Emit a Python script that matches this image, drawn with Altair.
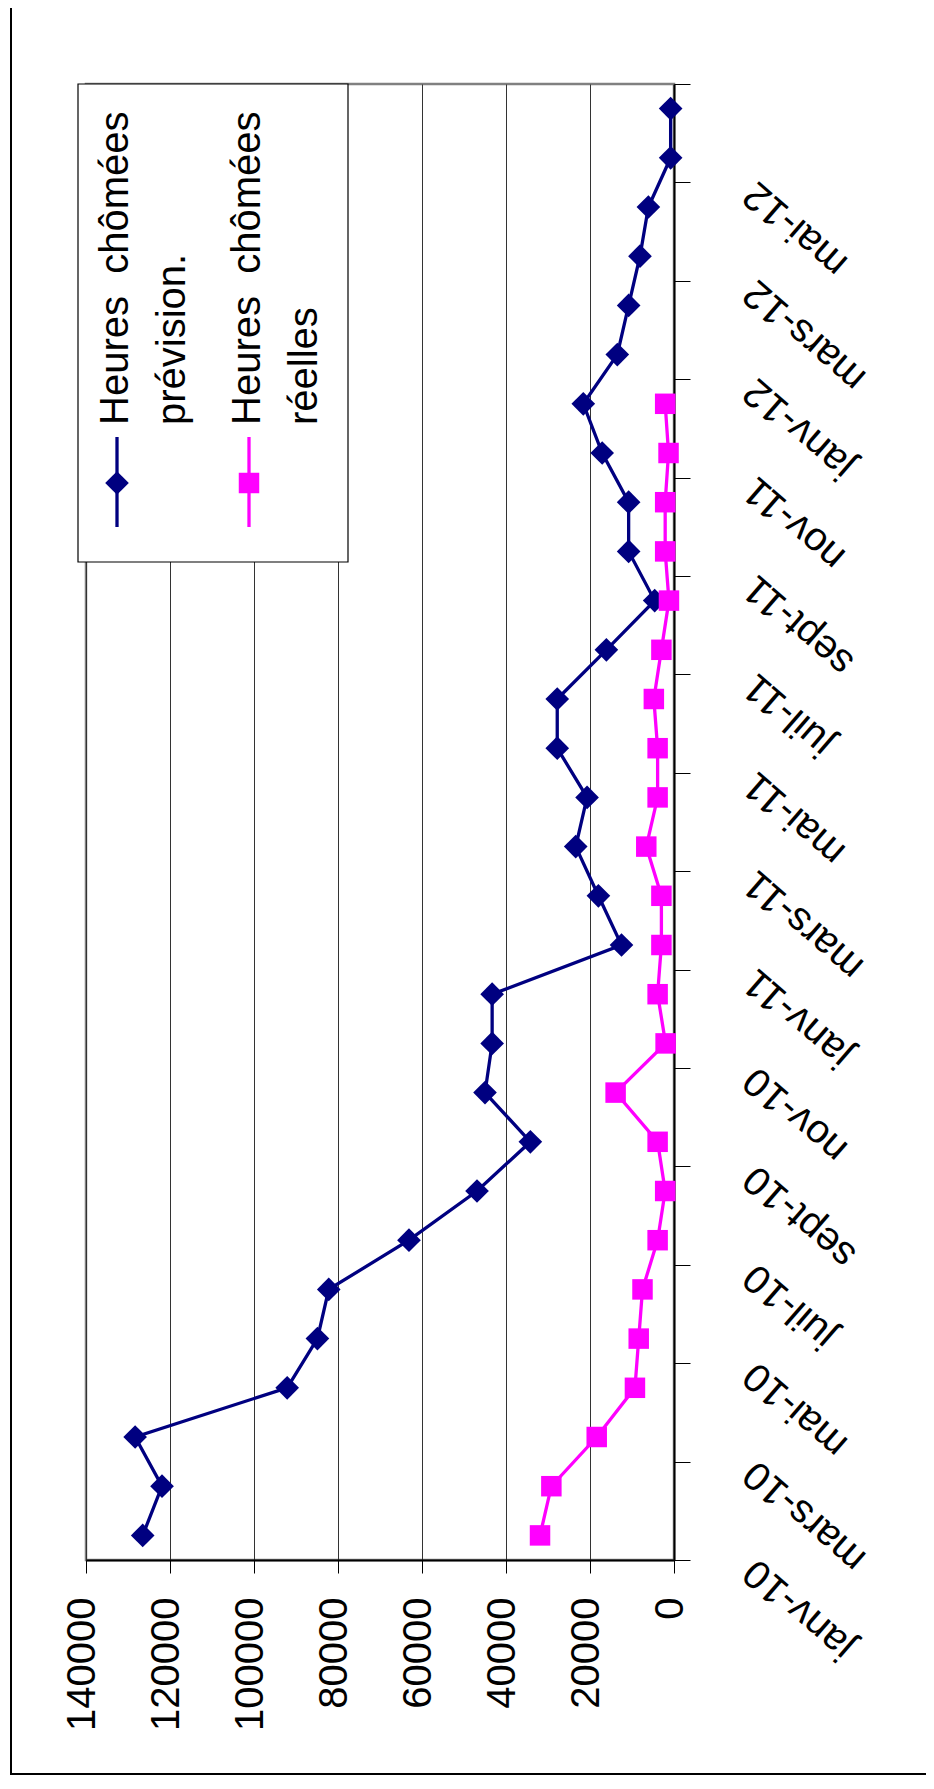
import altair as alt
import pandas as pd

# ---------------- data ----------------
months = ["janv-10", "févr-10", "mars-10", "avr-10", "mai-10", "juin-10",
          "juil-10", "août-10", "sept-10", "oct-10", "nov-10", "déc-10",
          "janv-11", "févr-11", "mars-11", "avr-11", "mai-11", "juin-11",
          "juil-11", "août-11", "sept-11", "oct-11", "nov-11", "déc-11",
          "janv-12", "févr-12", "mars-12", "avr-12", "mai-12", "juin-12"]

prevision = [126500, 121900, 128300, 92100, 84900, 82200, 63100, 46900, 34200, 45000,
             43300, 43300, 12500, 18000, 23400, 20700, 27800, 27800, 16100, 4600,
             10800, 10800, 17100, 21600, 13500, 10800, 8100, 6100, 800, 800]

reelles = [31900, 29200, 18400, 9300, 8400, 7500, 3900, 2100, 3900, 13900,
           2000, 3900, 3000, 3000, 6600, 3900, 3900, 4800, 3000, 1200,
           2100, 2100, 1300, 2100]

series_names = [["Heures\u00a0 chômées", "prévision."], ["Heures\u00a0 chômées", "réelles"]]
value_ticks = [0, 20000, 40000, 60000, 80000, 100000, 120000, 140000]

NAVY = "#000080"
MAGENTA = "#FF00FF"
FONT = "Liberation Sans"

df_p = pd.DataFrame({"idx": list(range(len(prevision))), "mois": months[:len(prevision)], "valeur": prevision})
df_r = pd.DataFrame({"idx": list(range(len(reelles))), "mois": months[:len(reelles)], "valeur": reelles})
one = pd.DataFrame({"a": [0]})

label_expr = "[" + ",".join("'" + m + "'" for m in months) + "][round(datum.value + 0.5)] || ''"

X = alt.X("valeur:Q",
          scale=alt.Scale(domain=[0, 140000], reverse=True, nice=False, zero=True),
          axis=alt.Axis(values=value_ticks, title=None, format="d",
                        grid=True, gridColor="#333333", gridWidth=1,
                        tickSize=13, tickColor="#000000", tickWidth=1,
                        domainColor="#000000", domainWidth=2,
                        labelAngle=270, labelAlign="right", labelBaseline="middle",
                        labelPadding=24, labelOffset=-4, labelFontSize=40, labelFont=FONT,
                        labelColor="#000000", labelFlush=False, labelOverlap=False,
                        labelBound=False))

Y = alt.Y("idx:Q",
          scale=alt.Scale(domain=[-0.5, len(months) - 0.5], nice=False, zero=False),
          axis=alt.Axis(orient="right", values=[-0.5 + 2 * k for k in range(16)],
                        labelExpr=label_expr, title=None, grid=False,
                        tickSize=16, tickColor="#000000", tickWidth=1,
                        domainColor="#000000", domainWidth=2,
                        labelAngle=221, labelAlign="right", labelBaseline="middle",
                        labelPadding=59, labelOffset=6, labelFontSize=40, labelFont=FONT,
                        labelColor="#000000", labelFlush=False, labelOverlap=False,
                        labelBound=False))

line_p = alt.Chart(df_p).mark_line(color=NAVY, strokeWidth=3.3).encode(x=X, y=Y, order="idx:Q")
pts_p = alt.Chart(df_p).mark_point(shape="diamond", filled=True, color=NAVY, size=560, opacity=1).encode(x=X, y=Y)
line_r = alt.Chart(df_r).mark_line(color=MAGENTA, strokeWidth=3.3).encode(x=X, y=Y, order="idx:Q")
pts_r = alt.Chart(df_r).mark_point(shape="square", filled=True, color=MAGENTA, size=420, opacity=1).encode(x=X, y=Y)

# ---------------- manual legend (rotated) ----------------
legend_box = alt.Chart(one).mark_rect(fill="white", stroke="#000000", strokeWidth=1.2).encode(
    x=alt.value(-8), x2=alt.value(262), y=alt.value(0), y2=alt.value(478))

leg_rule_p = alt.Chart(one).mark_rule(color=NAVY, strokeWidth=3.3).encode(
    x=alt.value(31), y=alt.value(353), y2=alt.value(443))
leg_pt_p = alt.Chart(one).mark_point(shape="diamond", filled=True, color=NAVY, size=560, opacity=1).encode(
    x=alt.value(31), y=alt.value(399))
leg_rule_r = alt.Chart(one).mark_rule(color=MAGENTA, strokeWidth=3.3).encode(
    x=alt.value(163), y=alt.value(353), y2=alt.value(443))
leg_pt_r = alt.Chart(one).mark_point(shape="square", filled=True, color=MAGENTA, size=420, opacity=1).encode(
    x=alt.value(163), y=alt.value(399))

leg_txt_p = alt.Chart(one).mark_text(angle=270, align="left", baseline="alphabetic",
                                     fontSize=40, font=FONT, lineHeight=57, color="#000000").encode(
    x=alt.value(42), y=alt.value(341), text=alt.value(series_names[0]))
leg_txt_r = alt.Chart(one).mark_text(angle=270, align="left", baseline="alphabetic",
                                     fontSize=40, font=FONT, lineHeight=57, color="#000000").encode(
    x=alt.value(174), y=alt.value(341), text=alt.value(series_names[1]))

# ---------------- outer frame (left & bottom) ----------------
frame_left = alt.Chart(one).mark_rule(color="#000000", strokeWidth=2).encode(
    x=alt.value(-75), y=alt.value(-76), y2=alt.value(1691))
frame_bottom = alt.Chart(one).mark_rule(color="#000000", strokeWidth=2).encode(
    x=alt.value(-76), x2=alt.value(840), y=alt.value(1690))

chart = alt.layer(
    line_p, pts_p, line_r, pts_r,
    legend_box, leg_rule_p, leg_pt_p, leg_rule_r, leg_pt_r, leg_txt_p, leg_txt_r,
    frame_left, frame_bottom,
).properties(
    width=588, height=1476,
    autosize=alt.AutoSizeParams(type="none"),
    padding={"left": 78, "top": 76, "right": 252, "bottom": 216},
).configure(
    font=FONT, background="white",
).configure_view(
    stroke="#808080", strokeWidth=2.5,
)

chart.save("out.html", embed_options={"renderer": "svg", "actions": False})
